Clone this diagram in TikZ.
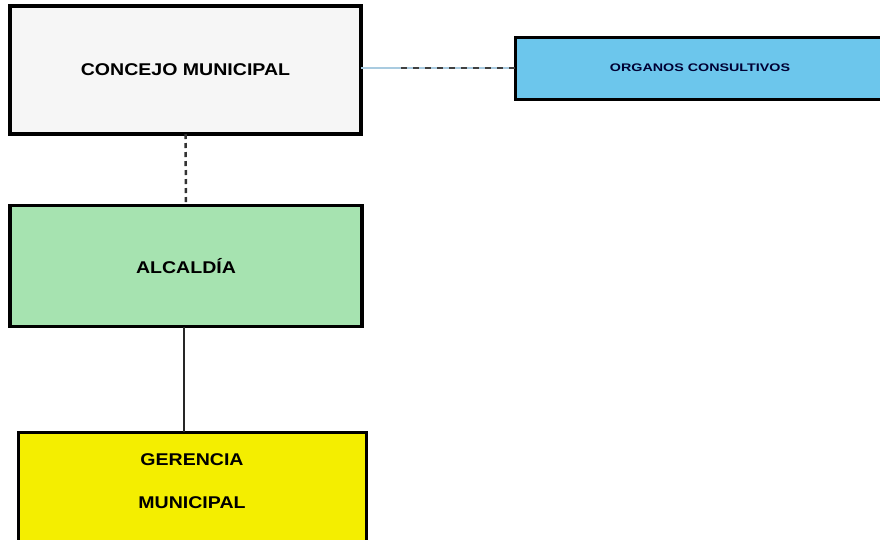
\documentclass[tikz,border=0pt]{standalone}
\usepackage{fontspec}
\setmainfont{Liberation Sans}
\usepackage{tikz}
\usetikzlibrary{positioning, calc}

\definecolor{concejogray}{HTML}{F6F6F6}
\definecolor{organosblue}{HTML}{6CC6EC}
\definecolor{alcaldiagreen}{HTML}{A6E3B0}
\definecolor{gerenciayellow}{HTML}{F4EE00}
\definecolor{linkblue}{HTML}{A9CBE0}

\begin{document}
\begin{tikzpicture}[x=1pt, y=-1pt, semithick,
  box/.style={draw=black, line width=3.5pt, rectangle, inner sep=0pt, outer sep=0pt, font=\bfseries},
  ]
  \useasboundingbox[fill=white] (0,0) rectangle (880,539);

  \node[box, fill=concejogray, minimum width=351pt, minimum height=128pt, font=\bfseries\fontsize{17}{20}\selectfont] (concejo) at (185.5,70) {\scalebox{1.15}[1]{CONCEJO MUNICIPAL}};
  \node[box, line width=3pt, fill=organosblue, minimum width=370pt, minimum height=62pt, font=\bfseries\fontsize{11}{13}\selectfont\color{black!80!blue}] (organos) at (700,68) {\scalebox{1.3}[1]{ORGANOS CONSULTIVOS}};
  \node[box, fill=alcaldiagreen, minimum width=352pt, minimum height=121pt, font=\bfseries\fontsize{17}{20}\selectfont] (alcaldia) at (186,266) {\scalebox{1.15}[1]{ALCALD\'IA}};
  \node[box, line width=3pt, fill=gerenciayellow, minimum width=348pt, minimum height=120pt, text height=28pt, text depth=38pt, font=\bfseries\fontsize{17}{20}\selectfont] (gerencia) at (192,492) {\scalebox{1.15}[1]{\begin{tabular}{@{}c@{}}GERENCIA\\[23pt]MUNICIPAL\end{tabular}}};

  \coordinate (dashstart) at ($(concejo.east |- organos.west)+(40,0)$);

  \path[-]
    (concejo.east |- organos.west) edge[draw=linkblue, line width=1.5pt] (organos.west)
    (dashstart) edge[draw=black!75, line width=2pt, dash pattern=on 6pt off 6pt] (organos.west)
    (concejo.south) edge[draw=black!80, line width=2.5pt, dash pattern=on 5pt off 4pt] (alcaldia.north)
    ([xshift=-2pt]alcaldia.south) edge[draw=black!85, line width=2pt] ([xshift=-2pt]alcaldia.south |- gerencia.north);
\end{tikzpicture}
\end{document}
